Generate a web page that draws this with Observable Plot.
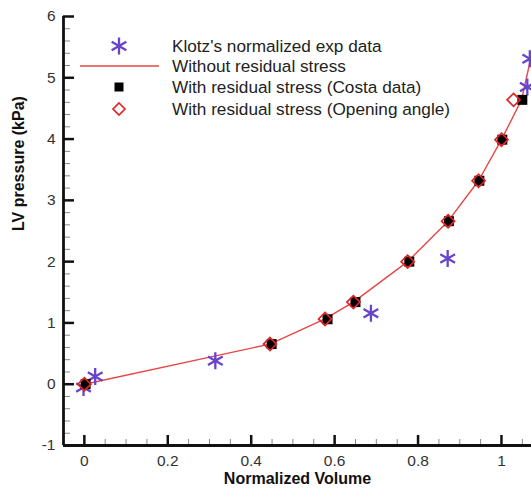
<!DOCTYPE html>
<html><head><meta charset="utf-8">
<script src="https://cdn.jsdelivr.net/npm/d3@7"></script>
<script src="https://cdn.jsdelivr.net/npm/@observablehq/plot@0.6"></script>
<style>
html,body{margin:0;padding:0;background:#fff;}
#chart{position:relative;width:531px;height:490px;overflow:hidden;font-family:Arial,"Liberation Sans",sans-serif;}
#chart svg{display:block;}
#legend{position:absolute;left:0;top:0;}
</style></head><body><div id="chart"></div>
<script>
// ---- data ----
const klotzVolume   = [-0.002, 0.026, 0.314, 0.687, 0.871, 1.062, 1.068];
const klotzPressure = [-0.055, 0.125, 0.383, 1.158, 2.05, 4.85, 5.31];

const lineVolume   = [0, 0.445, 0.577, 0.645, 0.775, 0.872, 0.945, 1.0, 1.048, 1.078];
const linePressure = [0, 0.655, 1.065, 1.34, 2.0, 2.66, 3.32, 3.99, 4.64, 5.55];

const costaVolume   = [0.003, 0.449, 0.583, 0.65, 0.779, 0.874, 0.947, 1.002, 1.05];
const costaPressure = [0, 0.655, 1.06, 1.34, 2.0, 2.66, 3.32, 3.99, 4.64];

const angleVolume   = [0, 0.445, 0.577, 0.645, 0.775, 0.872, 0.945, 1.0, 1.029];
const anglePressure = [0, 0.655, 1.065, 1.34, 2.0, 2.66, 3.32, 3.99, 4.64];

const xMajorTicks = [0, 0.2, 0.4, 0.6, 0.8, 1];
const xMinorTicks = [0.05, 0.1, 0.15, 0.25, 0.3, 0.35, 0.45, 0.5, 0.55, 0.65, 0.7, 0.75, 0.85, 0.9, 0.95, 1.05];
const yMajorTicks = [-1, 0, 1, 2, 3, 4, 5, 6];
const yMinorTicks = [-0.8,-0.6,-0.4,-0.2,0.2,0.4,0.6,0.8,1.2,1.4,1.6,1.8,2.2,2.4,2.6,2.8,3.2,3.4,3.6,3.8,4.2,4.4,4.6,4.8,5.2,5.4,5.6,5.8];

const xLabel = "Normalized Volume";
const yLabel = "LV pressure (kPa)";
const legendLabels = [
  "Klotz's normalized exp data",
  "Without residual stress",
  "With residual stress (Costa data)",
  "With residual stress (Opening angle)"
];

// ---- tables ----
const klotz = klotzVolume.map((v, i) => ({v, p: klotzPressure[i]}));
const lineData = lineVolume.map((v, i) => ({v, p: linePressure[i]}));
const costa = costaVolume.map((v, i) => ({v, p: costaPressure[i]}));
const angle = angleVolume.map((v, i) => ({v, p: anglePressure[i]}));

// ---- symbols ----
const asterisk = {draw(ctx, size) {
  const r = Math.sqrt(size / Math.PI);
  for (const a of [90, 30, -30]) {
    const t = a * Math.PI / 180, c = r * Math.cos(t), s = r * Math.sin(t);
    ctx.moveTo(c, s); ctx.lineTo(-c, -s);
  }
}};
const diamond = {draw(ctx, size) {
  const r = Math.sqrt(size / Math.PI);
  ctx.moveTo(0, -r); ctx.lineTo(r, 0); ctx.lineTo(0, r); ctx.lineTo(-r, 0); ctx.closePath();
}};
const square = {draw(ctx, size) {
  const r = Math.sqrt(size / Math.PI);
  ctx.rect(-r, -r, 2 * r, 2 * r);
}};

const PURPLE = "#6644cc", RED_LINE = "#e84545", RED = "#e02424";
const font = 'Arial, "Liberation Sans", sans-serif';

const plot = Plot.plot({
  width: 531, height: 490,
  marginLeft: 63, marginRight: 0, marginTop: 16, marginBottom: 45,
  style: {fontFamily: font, background: "white", overflow: "hidden"},
  x: {domain: [-0.05, 1.072]},
  y: {domain: [-1, 6]},
  marks: [
    Plot.axisX(xMajorTicks, {tickSize: 0, tickPadding: 9, fontSize: 15.5, fill: "#333", tickFormat: d => String(d), label: null}),
    Plot.axisY(yMajorTicks, {tickSize: 0, tickPadding: 8, fontSize: 15.5, fill: "#333", tickFormat: d => String(d), label: null}),
    Plot.tickX(xMinorTicks, {x: d => d, insetTop: 423, stroke: "#888", strokeWidth: 1}),
    Plot.tickY(yMinorTicks, {y: d => d, insetRight: 461, stroke: "#888", strokeWidth: 1}),
    Plot.tickX(xMajorTicks, {x: d => d, insetTop: 419, stroke: "#111", strokeWidth: 2.5}),
    Plot.tickY(yMajorTicks, {y: d => d, insetRight: 457, stroke: "#111", strokeWidth: 2.5}),
    Plot.ruleX([-0.05], {stroke: "#111", strokeWidth: 2.8}),
    Plot.ruleY([-1], {stroke: "#111", strokeWidth: 2.8}),
    Plot.line(lineData, {x: "v", y: "p", stroke: RED_LINE, strokeWidth: 1.4, clip: true}),
    Plot.dot(klotz, {x: "v", y: "p", symbol: asterisk, r: 8.5, fill: "none", stroke: PURPLE, strokeWidth: 2.3}),
    Plot.dot(costa, {x: "v", y: "p", symbol: square, r: 5, fill: "#000", stroke: "none"}),
    Plot.dot(angle, {x: "v", y: "p", symbol: diamond, r: 6.5, fill: "none", stroke: RED, strokeWidth: 1.7}),
    Plot.text([xLabel], {text: d => d, frameAnchor: "bottom", dy: 38, fontSize: 16, fontWeight: "bold", fill: "#111"}),
    Plot.text([yLabel], {text: d => d, frameAnchor: "left", dx: -45, rotate: -90, fontSize: 16, fontWeight: "bold", fill: "#111"})
  ]
});

const chart = document.getElementById("chart");
chart.appendChild(plot);

// ---- legend overlay ----
const leg = d3.select(chart).append("svg").attr("id", "legend")
  .attr("width", 531).attr("height", 130)
  .style("font-family", font);
const rows = [46, 66, 87, 109];
const symX = 119, textX = 172;
legendLabels.forEach((label, i) => {
  const y = rows[i];
  if (i === 0) leg.append("path").attr("d", d3.symbol(asterisk, Math.PI * 72)()).attr("transform", `translate(${symX},${y})`)
    .attr("fill", "none").attr("stroke", PURPLE).attr("stroke-width", 2.3);
  if (i === 1) leg.append("line").attr("x1", 80).attr("x2", 159).attr("y1", y).attr("y2", y)
    .attr("stroke", RED_LINE).attr("stroke-width", 1.4);
  if (i === 2) leg.append("path").attr("d", d3.symbol(square, Math.PI * 4.5 * 4.5)()).attr("transform", `translate(${symX},${y})`)
    .attr("fill", "#000");
  if (i === 3) leg.append("path").attr("d", d3.symbol(diamond, Math.PI * 6 * 6)()).attr("transform", `translate(${symX},${y})`)
    .attr("fill", "none").attr("stroke", RED).attr("stroke-width", 1.7);
  leg.append("text").attr("x", textX).attr("y", y).attr("dy", "0.36em")
    .attr("font-size", 17.2).attr("fill", "#222").text(label);
});
</script>
</body></html>
